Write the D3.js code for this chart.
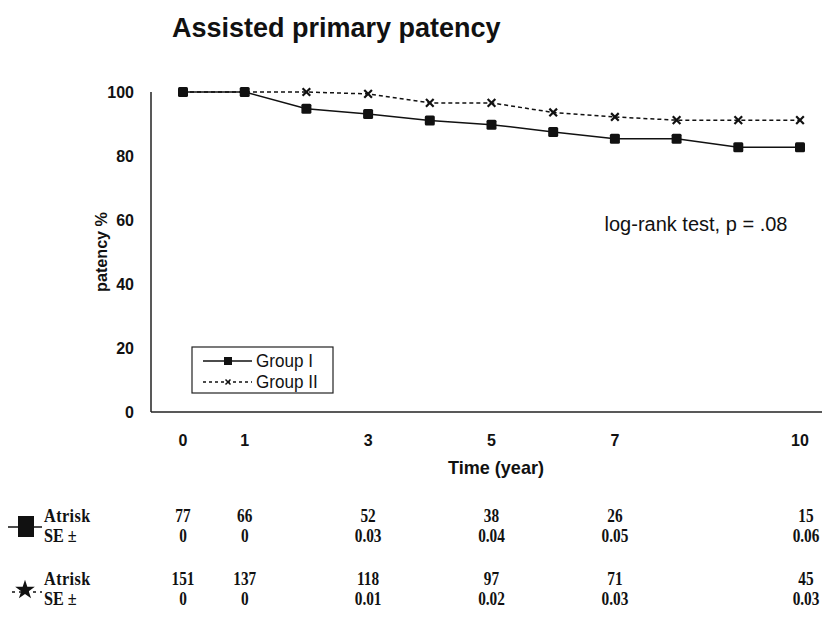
<!DOCTYPE html>
<html>
<head>
<meta charset="utf-8">
<script src="https://cdnjs.cloudflare.com/ajax/libs/d3/7.8.5/d3.min.js"></script>
<style>
  body { margin: 0; background: #fff; }
  text { font-family: 'Liberation Sans', Arial, sans-serif; font-weight: bold; fill: #111; }
  .tbl { font-family: 'Liberation Serif', 'Times New Roman', serif; font-weight: bold; }
</style>
</head>
<body>
<script>
var years = [0, 1, 2, 3, 4, 5, 6, 7, 8, 9, 10];
var groupI = [100, 100, 94.8, 93.1, 91.1, 89.8, 87.5, 85.4, 85.4, 82.7, 82.7];
var groupII = [100, 100, 100, 99.4, 96.6, 96.6, 93.6, 92.2, 91.2, 91.2, 91.2];
var xTicks = [0, 1, 3, 5, 7, 10];
var yTicks = [0, 20, 40, 60, 80, 100];
var tableYears = [0, 1, 3, 5, 7, 10];
var atRiskI = ['77', '66', '52', '38', '26', '15'];
var seI = ['0', '0', '0.03', '0.04', '0.05', '0.06'];
var atRiskII = ['151', '137', '118', '97', '71', '45'];
var seII = ['0', '0', '0.01', '0.02', '0.03', '0.03'];

var width = 822, height = 619;
var svg = d3.select('body').append('svg')
  .attr('width', width)
  .attr('height', height);

var x = d3.scaleLinear().domain([0, 10]).range([183, 800]);
var y = d3.scaleLinear().domain([0, 100]).range([412, 92]);

// title
svg.append('text')
  .attr('x', 172).attr('y', 37)
  .style('font-size', '27px')
  .text('Assisted primary patency');

// axes lines
svg.append('line')
  .attr('x1', 151).attr('x2', 151)
  .attr('y1', 92).attr('y2', 412)
  .attr('stroke', '#222').attr('stroke-width', 1.5);
svg.append('line')
  .attr('x1', 151).attr('x2', width)
  .attr('y1', 412).attr('y2', 412)
  .attr('stroke', '#222').attr('stroke-width', 1.5);

svg.selectAll('.ytick')
  .data(yTicks)
  .enter().append('text')
  .attr('class', 'ytick')
  .attr('x', 134)
  .attr('y', function(d) { return y(d); })
  .attr('dy', '0.36em')
  .attr('text-anchor', 'end')
  .style('font-size', '16px')
  .text(function(d) { return d; });

svg.selectAll('.xtick')
  .data(xTicks)
  .enter().append('text')
  .attr('class', 'xtick')
  .attr('x', function(d) { return x(d); })
  .attr('y', 446)
  .attr('text-anchor', 'middle')
  .style('font-size', '16px')
  .text(function(d) { return d; });

svg.append('text')
  .attr('transform', 'translate(496,474) scale(0.95,1)')
  .attr('text-anchor', 'middle')
  .style('font-size', '19px')
  .text('Time (year)');

svg.append('text')
  .attr('transform', 'translate(107,252) rotate(-90) scale(0.95,1)')
  .attr('text-anchor', 'middle')
  .style('font-size', '17px')
  .text('patency %');

svg.append('text')
  .attr('x', 696).attr('y', 231)
  .attr('text-anchor', 'middle')
  .style('font-size', '20px')
  .style('font-weight', 'normal')
  .style('-webkit-text-stroke', '0.4px #111')
  .text('log-rank test, p = .08');

var line = d3.line()
  .x(function(d, i) { return x(years[i]); })
  .y(function(d) { return y(d); });

// group II (dashed)
svg.append('path')
  .datum(groupII)
  .attr('d', line)
  .attr('fill', 'none')
  .attr('stroke', '#111')
  .attr('stroke-width', 1.5)
  .attr('stroke-dasharray', '4,3');

var star = d3.symbol().type(d3.symbolX).size(40);
svg.selectAll('.m2')
  .data(groupII)
  .enter().append('path')
  .attr('class', 'm2')
  .attr('transform', function(d, i) { return 'translate(' + x(years[i]) + ',' + y(d) + ')'; })
  .attr('d', star)
  .attr('stroke', '#111')
  .attr('stroke-width', 2.2)
  .attr('fill', 'none');

// group I (solid)
svg.append('path')
  .datum(groupI)
  .attr('d', line)
  .attr('fill', 'none')
  .attr('stroke', '#111')
  .attr('stroke-width', 1.5);

svg.selectAll('.m1')
  .data(groupI)
  .enter().append('rect')
  .attr('class', 'm1')
  .attr('x', function(d, i) { return x(years[i]) - 5; })
  .attr('y', function(d) { return y(d) - 5; })
  .attr('width', 10).attr('height', 10)
  .attr('rx', 1.5)
  .attr('fill', '#111');

// legend
var lg = svg.append('g');
lg.append('rect')
  .attr('x', 192).attr('y', 347)
  .attr('width', 141).attr('height', 46)
  .attr('fill', '#fff').attr('stroke', '#222').attr('stroke-width', 1.2);
lg.append('line')
  .attr('x1', 203).attr('x2', 252).attr('y1', 361).attr('y2', 361)
  .attr('stroke', '#111').attr('stroke-width', 1.3);
lg.append('rect')
  .attr('x', 224).attr('y', 357).attr('width', 8).attr('height', 8)
  .attr('fill', '#111');
lg.append('line')
  .attr('x1', 203).attr('x2', 252).attr('y1', 382).attr('y2', 382)
  .attr('stroke', '#111').attr('stroke-width', 1.3)
  .attr('stroke-dasharray', '3,3');
lg.append('path')
  .attr('transform', 'translate(228,382)')
  .attr('d', d3.symbol().type(d3.symbolX).size(18))
  .attr('stroke', '#111').attr('stroke-width', 1.5);
lg.append('text')
  .attr('transform', 'translate(256,367) scale(0.95,1)')
  .style('font-size', '18px').style('font-weight', 'normal')
  .text('Group I');
lg.append('text')
  .attr('transform', 'translate(256,388) scale(0.95,1)')
  .style('font-size', '18px').style('font-weight', 'normal')
  .text('Group II');

// at-risk table
var tblSize = '18px';
function tableRow(values, yy) {
  svg.append('g').selectAll('text')
    .data(values)
    .enter().append('text')
    .attr('class', 'tbl')
    .attr('text-anchor', 'middle')
    .attr('transform', function(d, i) {
      var cx = x(tableYears[i]);
      if (i === values.length - 1) cx = x(tableYears[i]) + 6;
      return 'translate(' + cx + ',' + yy + ') scale(0.85,1)';
    })
    .style('font-size', tblSize)
    .text(function(d) { return d; });
}
function tableLabels(yy) {
  svg.append('text').attr('class', 'tbl')
    .attr('transform', 'translate(44,' + yy + ') scale(0.9,1)')
    .style('font-size', tblSize).style('letter-spacing', '0.5px').text('Atrisk');
  svg.append('text').attr('class', 'tbl')
    .attr('transform', 'translate(44,' + (yy + 20) + ') scale(0.9,1)')
    .style('font-size', tblSize).text('SE ±');
}

tableLabels(522);
tableRow(atRiskI, 522);
tableRow(seI, 542);
tableLabels(585);
tableRow(atRiskII, 585);
tableRow(seII, 605);

// table row symbols
svg.append('line')
  .attr('x1', 8).attr('x2', 42).attr('y1', 527).attr('y2', 527)
  .attr('stroke', '#111').attr('stroke-width', 1.5);
svg.append('rect')
  .attr('x', 18).attr('y', 516).attr('width', 16).attr('height', 21)
  .attr('fill', '#111');
svg.append('line')
  .attr('x1', 12).attr('x2', 42).attr('y1', 592).attr('y2', 592)
  .attr('stroke', '#111').attr('stroke-width', 1.5)
  .attr('stroke-dasharray', '3,4');
svg.append('path')
  .attr('transform', 'translate(25,590)')
  .attr('d', d3.symbol().type(d3.symbolStar).size(120))
  .attr('fill', '#111');
</script>
</body>
</html>
